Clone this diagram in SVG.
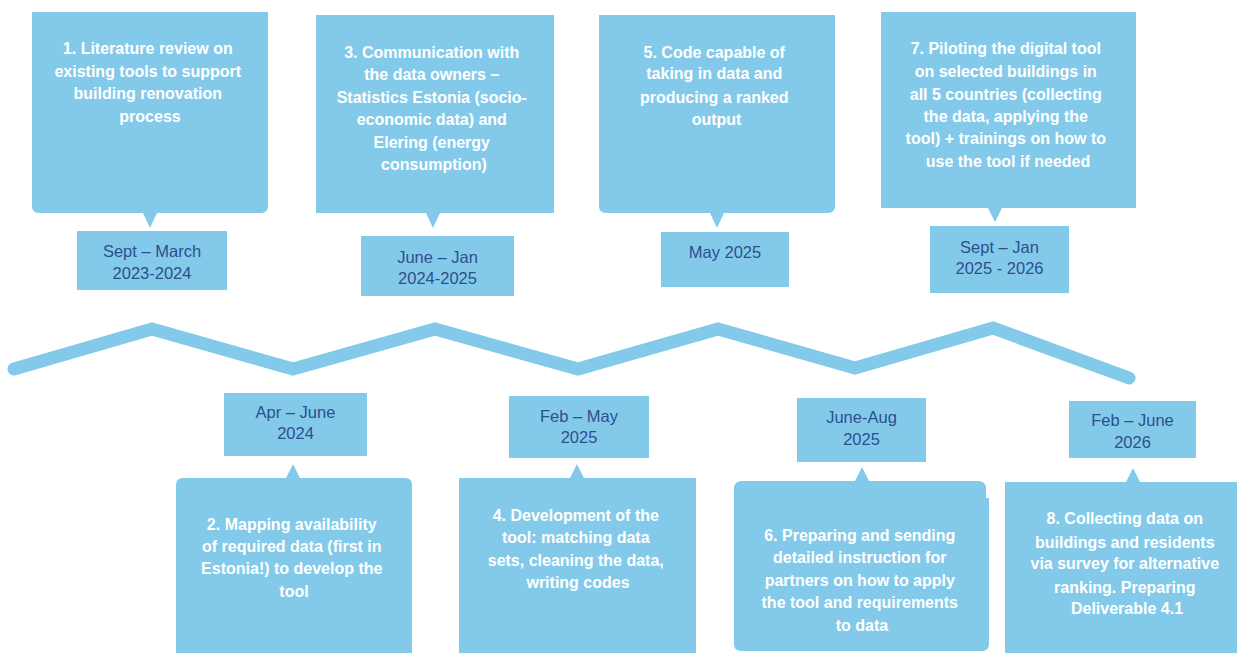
<svg xmlns="http://www.w3.org/2000/svg" width="1237" height="653" viewBox="0 0 1237 653">
  <style>
    .box { fill: #83CAEA; }
    .date { fill: #83CAEA; }
    .task { font-family: "Liberation Sans", Arial, sans-serif; font-weight: bold; font-size: 16px; fill: #FFFFFF; text-anchor: middle; }
    .when { font-family: "Liberation Sans", Arial, sans-serif; font-size: 16.5px; fill: #2F4E8E; text-anchor: middle; }
    .line { fill: none; stroke: #83CAEA; stroke-width: 13; stroke-linecap: round; stroke-linejoin: miter; }
  </style>
  <rect width="1237" height="653" fill="#FFFFFF"/>

  <!-- timeline zigzag -->
  <g id="connectors">
    <polyline class="line" points="14,369 152,329 293,369 435,329 578,369 718,329 855,368 993,328 1129,378"/>
  </g>

  <!-- step 1 -->
  <g id="step1">
    <path class="box" d="M32,12 H268 V206 Q268,213 261,213 H157 L150,228 L143,213 H39 Q32,213 32,206 Z"/>
    <text class="task" x="150">
      <tspan x="150" y="53.5">1. Literature review on</tspan>
      <tspan x="150" y="76.5">existing tools to support</tspan>
      <tspan x="150" y="98.5">building renovation</tspan>
      <tspan x="150" y="121.5">process</tspan>
    </text>
  </g>
  <g id="date1">
    <rect class="date" x="77" y="231" width="150" height="59"/>
    <text class="when"><tspan x="152" y="257">Sept – March</tspan><tspan x="152" y="279">2023-2024</tspan></text>
  </g>

  <!-- step 2 -->
  <g id="step2">
    <path class="box" d="M176,653 V485 Q176,478 183,478 H286 L293,464 L300,478 H405 Q412,478 412,485 V653 Z"/>
    <text class="task">
      <tspan x="294" y="529.5">2. Mapping availability</tspan>
      <tspan x="294" y="551.5">of required data (first in</tspan>
      <tspan x="294" y="573.5">Estonia!) to develop the</tspan>
      <tspan x="294" y="596.5">tool</tspan>
    </text>
  </g>
  <g id="date2">
    <rect class="date" x="224" y="393" width="143" height="63"/>
    <text class="when"><tspan x="295.5" y="418">Apr – June</tspan><tspan x="295.5" y="439">2024</tspan></text>
  </g>

  <!-- step 3 -->
  <g id="step3">
    <path class="box" d="M316,15 H554 V213 H440 L433,228 L426,213 H316 Z"/>
    <text class="task">
      <tspan x="434" y="57.5">3. Communication with</tspan>
      <tspan x="434" y="79.5">the data owners –</tspan>
      <tspan x="434" y="102.5">Statistics Estonia (socio-</tspan>
      <tspan x="434" y="124.5">economic data) and</tspan>
      <tspan x="434" y="147.5">Elering (energy</tspan>
      <tspan x="434" y="169.5">consumption)</tspan>
    </text>
  </g>
  <g id="date3">
    <rect class="date" x="361" y="236" width="153" height="60"/>
    <text class="when"><tspan x="437.5" y="263">June – Jan</tspan><tspan x="437.5" y="284">2024-2025</tspan></text>
  </g>

  <!-- step 4 -->
  <g id="step4">
    <path class="box" d="M459,653 V478 H570 L577,464 L584,478 H696 V653 Z"/>
    <text class="task">
      <tspan x="578" y="520.5">4. Development of the</tspan>
      <tspan x="578" y="542.5">tool: matching data</tspan>
      <tspan x="578" y="565.5">sets, cleaning the data,</tspan>
      <tspan x="578" y="587.5">writing codes</tspan>
    </text>
  </g>
  <g id="date4">
    <rect class="date" x="509" y="396" width="140" height="62"/>
    <text class="when"><tspan x="579" y="422">Feb – May</tspan><tspan x="579" y="443">2025</tspan></text>
  </g>

  <!-- step 5 -->
  <g id="step5">
    <path class="box" d="M599,15 H835 V206 Q835,213 828,213 H724 L717,228 L710,213 H606 Q599,213 599,206 Z"/>
    <text class="task">
      <tspan x="716.5" y="57.5">5. Code capable of</tspan>
      <tspan x="716.5" y="78.5">taking in data and</tspan>
      <tspan x="716.5" y="102.5">producing a ranked</tspan>
      <tspan x="716.5" y="124.5">output</tspan>
    </text>
  </g>
  <g id="date5">
    <rect class="date" x="661" y="232" width="128" height="55"/>
    <text class="when"><tspan x="725" y="258">May 2025</tspan></text>
  </g>

  <!-- step 6 -->
  <g id="step6">
    <path class="box" d="M734,644 V489 Q734,481 742,481 H855 L862,467 L869,481 H978 Q986,481 986,489 V498 H989 V644 Q989,651 982,651 H741 Q734,651 734,644 Z"/>
    <text class="task">
      <tspan x="862" y="540.5">6. Preparing and sending</tspan>
      <tspan x="862" y="562.5">detailed instruction for</tspan>
      <tspan x="862" y="585.5">partners on how to apply</tspan>
      <tspan x="862" y="607.5">the tool and requirements</tspan>
      <tspan x="862" y="630.5">to data</tspan>
    </text>
  </g>
  <g id="date6">
    <rect class="date" x="797" y="398" width="129" height="64"/>
    <text class="when"><tspan x="861.5" y="423">June-Aug</tspan><tspan x="861.5" y="445">2025</tspan></text>
  </g>

  <!-- step 7 -->
  <g id="step7">
    <path class="box" d="M881,12 H1136 V208 H1002 L995,222 L988,208 H881 Z"/>
    <text class="task">
      <tspan x="1008" y="53.5">7. Piloting the digital tool</tspan>
      <tspan x="1008" y="76.5">on selected buildings in</tspan>
      <tspan x="1008" y="99.5">all 5 countries (collecting</tspan>
      <tspan x="1008" y="121.5">the data, applying the</tspan>
      <tspan x="1008" y="143.5">tool) + trainings on how to</tspan>
      <tspan x="1008" y="166.5">use the tool if needed</tspan>
    </text>
  </g>
  <g id="date7">
    <rect class="date" x="930" y="226" width="139" height="67"/>
    <text class="when"><tspan x="999.5" y="253">Sept – Jan</tspan><tspan x="999.5" y="274">2025 - 2026</tspan></text>
  </g>

  <!-- step 8 -->
  <g id="step8">
    <path class="box" d="M1005,653 V482 H1126 L1133,468 L1140,482 H1237 V653 Z"/>
    <text class="task">
      <tspan x="1127" y="523.5">8. Collecting data on</tspan>
      <tspan x="1127" y="547.5">buildings and residents</tspan>
      <tspan x="1127" y="568.5">via survey for alternative</tspan>
      <tspan x="1127" y="592.5">ranking. Preparing</tspan>
      <tspan x="1127" y="613.5">Deliverable 4.1</tspan>
    </text>
  </g>
  <g id="date8">
    <rect class="date" x="1069" y="401" width="127" height="57"/>
    <text class="when"><tspan x="1132.5" y="426">Feb – June</tspan><tspan x="1132.5" y="448">2026</tspan></text>
  </g>
</svg>
